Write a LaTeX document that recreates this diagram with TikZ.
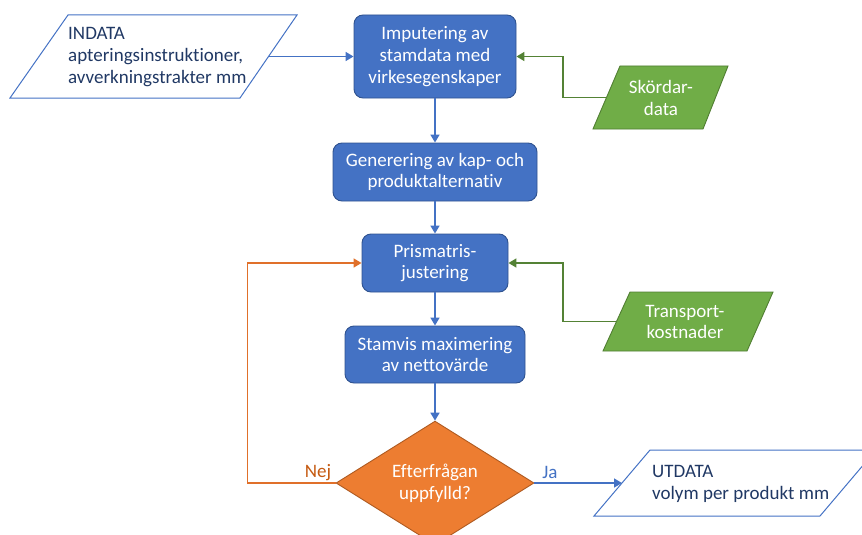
\documentclass[tikz,border=0pt]{standalone}
\usepackage{fontspec}
\setmainfont{Carlito}[Ligatures=NoCommon]
\usetikzlibrary{shapes.geometric,arrows.meta}
\definecolor{bfill}{HTML}{4472C4}
\definecolor{bdraw}{HTML}{2F528F}
\definecolor{gfill}{HTML}{70AD47}
\definecolor{gdraw}{HTML}{507E32}
\definecolor{ofill}{HTML}{ED7D31}
\definecolor{odraw}{HTML}{AE5A21}
\definecolor{oline}{HTML}{E0702A}
\definecolor{otext}{HTML}{C55A11}
\definecolor{gline}{HTML}{548235}
\definecolor{bline}{HTML}{4472C4}
\definecolor{dtext}{HTML}{203864}
\begin{document}
\begin{tikzpicture}[x=1pt,y=-1pt,
  font=\fontsize{19}{21.8}\selectfont,
  proc/.style={draw=bdraw, fill=bfill, rounded corners=9pt, text=white, align=center, inner sep=0pt, line width=0.9pt},
  decbox/.style={diamond, draw=odraw, fill=ofill, text=white, align=center, inner sep=0pt, line width=0.9pt},
  iobox/.style={draw=bline, line width=1pt},
  gio/.style={draw=gdraw, fill=gfill, line width=0.9pt},
  iotext/.style={text=dtext, align=left, anchor=west, inner sep=0pt},
  gtext/.style={text=white, align=center, inner sep=0pt},
  flow/.style={line width=1.6pt, -{Triangle[length=8pt,width=9pt]}},
]
\useasboundingbox (0,0) rectangle (862,535);
\clip (0,0) rectangle (862,535);

% process boxes
\node[proc, minimum width=162pt, minimum height=83pt] (imp) at (435,56.5) {Imputering av\\stamdata med\\virkesegenskaper};
\node[proc, minimum width=204pt, minimum height=58pt] (gen) at (435,172) {Generering av kap- och\\produktalternativ};
\node[proc, minimum width=146pt, minimum height=58pt] (pri) at (435,263) {Prismatris-\\justering};
\node[proc, minimum width=180pt, minimum height=57pt] (sta) at (435,354.5) {Stamvis maximering\\av nettovärde};
\node[decbox, minimum width=198pt, minimum height=112pt] (dec) at (435,483) {Efterfrågan\\uppfylld?};

% INDATA
\draw[iobox] (68,15) -- (297,15) -- (240,98) -- (10,98) -- cycle;
\node[iotext] (ind) at (68,57) {INDATA\\apteringsinstruktioner,\\avverkningstrakter mm};
\coordinate (indR) at (268.5,56.5);

% Skördardata
\draw[gio] (620,66) -- (728,66) -- (703,129) -- (593,129) -- cycle;
\node[gtext] (sko) at (661,98) {Skördar-\\data};
\coordinate (skoL) at (606.5,97.5);

% Transportkostnader
\draw[gio] (630,292) -- (773,292) -- (747,351) -- (603,351) -- cycle;
\node[gtext] (tra) at (685,322) {Transport-\\kostnader};
\coordinate (traL) at (616.5,321.5);

% UTDATA
\draw[iobox] (650,450) -- (876,450) -- (820,516) -- (594,516) -- cycle;
\node[iotext] (ut) at (652,484) {UTDATA\\volym per produkt mm};
\coordinate (utL) at (622,483);

% connectors
\draw[flow, bline] (indR) -- (imp.west);
\draw[flow, gline] (skoL) -- ++(-43.5,0) |- (imp.east);
\draw[flow, bline] (imp.south) -- (gen.north);
\draw[flow, bline] (gen.south) -- (pri.north);
\draw[flow, gline] (traL) -- ++(-53.5,0) |- (pri.east);
\draw[flow, bline] (pri.south) -- (sta.north);
\draw[flow, bline] (sta.south) -- (dec.north);
\draw[flow, oline] (dec.west) -- ++(-88,0) |- (pri.west);
\draw[flow, bline] (dec.east) -- (utL);

% labels
\node[text=otext, inner sep=0pt] (nej) at (318,473) {Nej};
\node[text=bline, inner sep=0pt] (ja) at (550,472) {Ja};
\end{tikzpicture}
\end{document}
